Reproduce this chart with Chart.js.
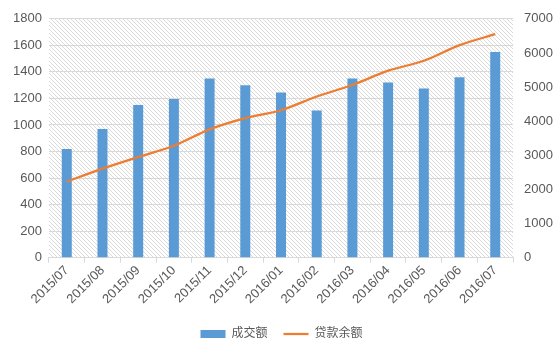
<!DOCTYPE html>
<html><head><meta charset="utf-8">
<script src="https://cdn.jsdelivr.net/npm/chart.js@4"></script>
<style>html,body{margin:0;padding:0;background:#fff}#wrap{width:559px;height:359px}</style>
</head><body><div id="wrap"><canvas id="c" width="559" height="359"></canvas></div>
<script>
const categories = ["2015/07","2015/08","2015/09","2015/10","2015/11","2015/12","2016/01","2016/02","2016/03","2016/04","2016/05","2016/06","2016/07"];
const volume = [820,970,1150,1195,1350,1300,1245,1110,1350,1320,1275,1360,1550];
const balance = [2230,2610,2950,3280,3760,4090,4320,4725,5060,5480,5770,6230,6550];
const leftTicks = [0,200,400,600,800,1000,1200,1400,1600,1800];
const rightTicks = [0,1000,2000,3000,4000,5000,6000,7000];

const FONT = "'Liberation Sans', 'Noto Sans CJK SC', sans-serif";
const TXT = '#595959';

function makePattern(){
  const p = document.createElement('canvas'); p.width = 4; p.height = 4;
  const g = p.getContext('2d');
  g.fillStyle = '#ffffff'; g.fillRect(0,0,4,4);
  g.strokeStyle = '#dadada'; g.lineWidth = 1;
  g.beginPath(); g.moveTo(-1,-1); g.lineTo(5,5); g.moveTo(-1,3); g.lineTo(1,5); g.moveTo(3,-1); g.lineTo(5,1); g.stroke();
  return g.createPattern(p,'repeat');
}
const hatch = {
  id:'hatch',
  beforeDraw(chart){
    const {ctx, chartArea:a} = chart;
    ctx.save(); ctx.fillStyle = makePattern();
    ctx.fillRect(a.left, a.top, a.right-a.left, a.bottom-a.top);
    ctx.restore();
  }
};

new Chart(document.getElementById('c'), {
  data: {
    labels: categories,
    datasets: [
      {type:'line', label:'贷款余额', data: balance, yAxisID:'y2', borderColor:'#ED7D31', backgroundColor:'#ED7D31', borderWidth:2.25, pointRadius:0, tension:0.3, order:0},
      {type:'bar', label:'成交额', data: volume, yAxisID:'y', backgroundColor:'#5B9BD5', barPercentage:0.56, categoryPercentage:0.5, order:1}
    ]
  },
  plugins:[hatch],
  options: {
    responsive:false, animation:false,
    layout:{padding:{left:6,right:2,top:10,bottom:9}},
    plugins:{
      tooltip:{enabled:false},
      legend:{
        position:'bottom',
        labels:{usePointStyle:true, boxHeight:8, pointStyleWidth:25, padding:16, color:TXT, font:{family:FONT,size:12},
          generateLabels(chart){
            const d = chart.data.datasets;
            return [
              {text:d[1].label, fillStyle:'#5B9BD5', strokeStyle:'#5B9BD5', lineWidth:0, pointStyle:'rect', datasetIndex:1, fontColor:TXT},
              {text:d[0].label, fillStyle:'#ED7D31', strokeStyle:'#ED7D31', lineWidth:2.25, pointStyle:'line', datasetIndex:0, fontColor:TXT}
            ];
          }
        }
      }
    },
    scales:{
      x:{
        afterFit(s){ s.height += 5; },
        grid:{display:true, drawOnChartArea:false, offset:true, color:'#d9d9d9', tickLength:5},
        border:{color:'#d9d9d9'},
        ticks:{color:TXT, font:{family:FONT,size:13}, minRotation:45, maxRotation:45, padding:0}
      },
      y:{
        position:'left', min:0, max:1800,
        afterBuildTicks(s){ s.ticks = leftTicks.map(v=>({value:v})); },
        grid:{color:'#d9d9d9', drawTicks:false},
        border:{display:false},
        ticks:{color:TXT, font:{family:FONT,size:13}, padding:7, callback:v=>String(v)}
      },
      y2:{
        position:'right', min:0, max:7000,
        afterBuildTicks(s){ s.ticks = rightTicks.map(v=>({value:v})); },
        afterFit(s){ s.width -= 7; },
        grid:{display:false, drawTicks:false},
        border:{display:false},
        ticks:{color:TXT, font:{family:FONT,size:13}, padding:11, callback:v=>String(v)}
      }
    }
  }
});
</script></body></html>
